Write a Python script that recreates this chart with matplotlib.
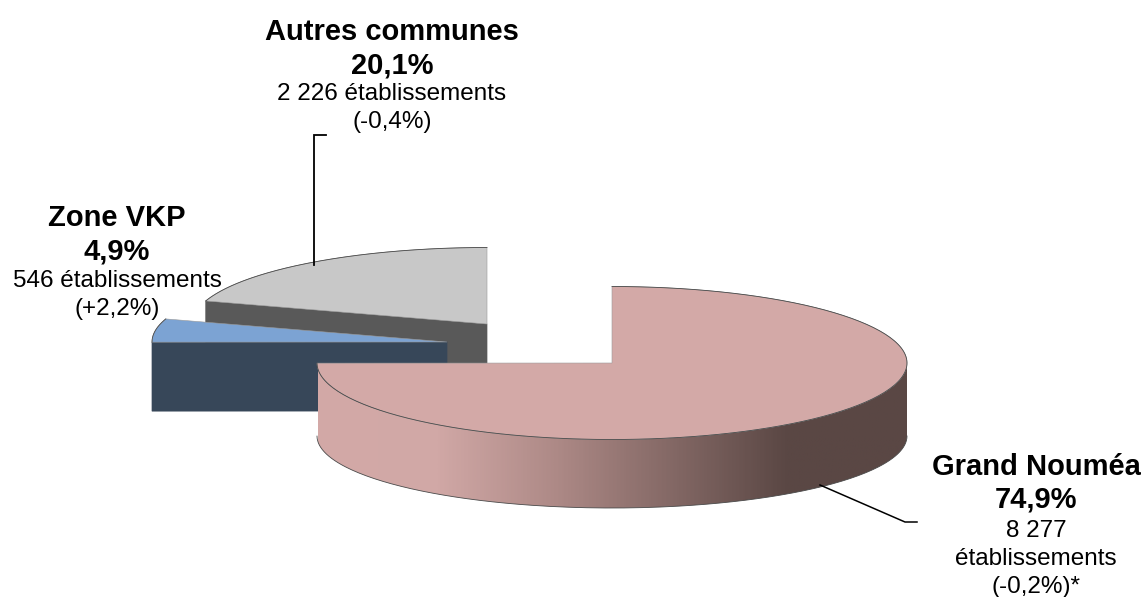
import numpy as np
import matplotlib
matplotlib.use('Agg')
import matplotlib.pyplot as plt
from matplotlib.colors import LinearSegmentedColormap
from matplotlib.patches import Polygon

plt.rcParams['font.family'] = ['Liberation Sans', 'DejaVu Sans']

# data, in chart order (clockwise from 12 o'clock)
regions = ['Grand Nouméa', 'Zone VKP', 'Autres communes']
shares = [74.9, 4.9, 20.1]
share_labels = ['74,9%', '4,9%', '20,1%']
count_lines = [['8 277', 'établissements', '(-0,2%)*'],
               ['546 établissements', '(+2,2%)'],
               ['2 226 établissements', '(-0,4%)']]

# layout of the exploded slices, in pixels
centers = [(612, 363), (447, 342), (487, 324)]
rx, ry = 295, 76.5
depth, ry_low = 73, 72
cut_depth = 69

top_colors = ['#D3A9A7', '#7CA3D3', '#C8C8C8']
face_colors = ['#D3A9A7', '#374759', '#595959']
edge = '#4a4a4a'

# label x, y of each line
label_x = [1036, 117, 392]
label_y = [[467, 500, 531, 559, 587], [218, 252, 281, 309], [32, 65, 94, 122]]

fig = plt.figure(figsize=(11.44, 5.97), dpi=100)
ax = fig.add_axes([0, 0, 1, 1])
ax.set_xlim(0, 1144)
ax.set_ylim(597, 0)
ax.axis('off')

# slice limits in degrees, clockwise from the top
limits = np.cumsum([0] + shares)
limits = limits / limits[-1] * 360


def arc(c, t0, t1, low=False):
    t = np.radians(np.linspace(t0, t1, 200))
    if low:
        return np.column_stack([c[0] + rx * np.sin(t), c[1] + depth - ry_low * np.cos(t)])
    return np.column_stack([c[0] + rx * np.sin(t), c[1] - ry * np.cos(t)])


def cut_face(c, t, color, z):
    tip = arc(c, t, t)[0]
    pts = [c, tip, (tip[0], tip[1] + cut_depth), (c[0], c[1] + cut_depth)]
    ax.add_patch(Polygon(pts, closed=True, fc=color, ec=color, lw=0.5, zorder=z))


def top(c, t0, t1, color, z):
    pts = np.vstack([[c], arc(c, t0, t1)])
    ax.add_patch(Polygon(pts, closed=True, fc=color, ec='#9a9a9a', lw=0.4, zorder=z))
    outline = arc(c, t0, t1)
    ax.plot(outline[:, 0], outline[:, 1], color=edge, lw=0.6, zorder=z)


# Autres communes
cut_face(centers[2], limits[2], face_colors[2], 1)
top(centers[2], limits[2], limits[3], top_colors[2], 2)

# Zone VKP
cut_face(centers[1], limits[1], face_colors[1], 3)
top(centers[1], limits[1], limits[2], top_colors[1], 4)

# Grand Noumea: rim with a shading from pink to dark brown
c = centers[0]
rim = np.vstack([arc(c, 90, limits[1]), arc(c, limits[1], 90, low=True)])
rim_patch = Polygon(rim, closed=True, fc='none', ec='none', zorder=6)
ax.add_patch(rim_patch)
shade = LinearSegmentedColormap.from_list(
    'rim', [(0, '#D3A9A7'), (0.2, '#D1A8A6'), (0.4, '#AE8A87'), (0.8, '#5A4744'), (1, '#5A4744')])
img = ax.imshow(np.linspace(0, 1, 400)[None, :], cmap=shade, extent=(318, 907, 520, 360),
                aspect='auto', zorder=5)
img.set_clip_path(rim_patch)
ax.set_xlim(0, 1144)
ax.set_ylim(597, 0)
low_edge = arc(c, 90, limits[1], low=True)
ax.plot(low_edge[:, 0], low_edge[:, 1], color=edge, lw=0.6, zorder=6)
top(c, limits[0], limits[1], top_colors[0], 7)

# leader lines
ax.plot([326, 314, 314], [135, 135, 265], color='black', lw=1.3, zorder=8, solid_joinstyle='miter')
ax.plot([820, 905, 917], [485, 522, 522], color='black', lw=1.1, zorder=8)

# labels
for i in range(len(regions)):
    lines = [regions[i], share_labels[i]] + count_lines[i]
    for j, line in enumerate(lines):
        ax.text(label_x[i], label_y[i][j], line, ha='center', va='center',
                fontsize=21 if j < 2 else 17.5, fontweight='bold' if j < 2 else 'normal',
                color='black', zorder=9)

fig.savefig('out.png', dpi=100)
